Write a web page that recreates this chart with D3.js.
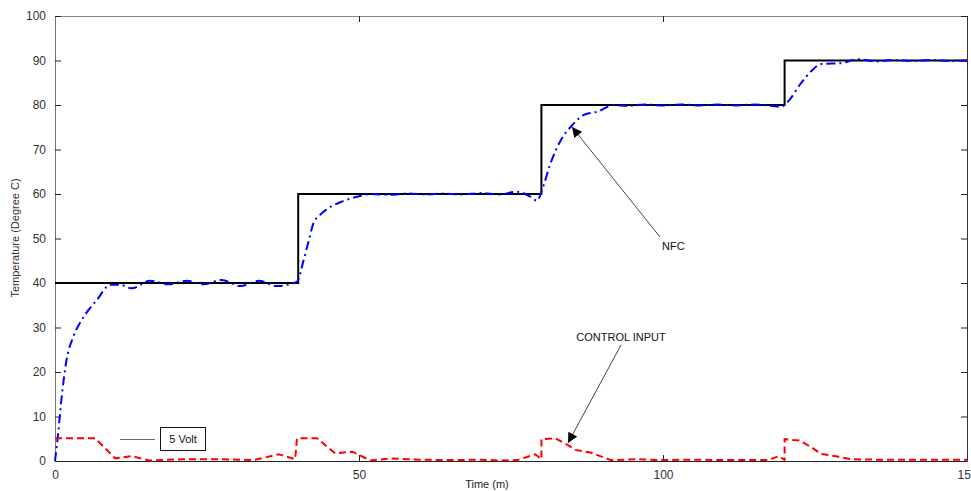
<!DOCTYPE html>
<html><head><meta charset="utf-8">
<script src="https://cdn.jsdelivr.net/npm/d3@7"></script>
<style>body{margin:0;background:#fff}svg{display:block}text{font-family:"Liberation Sans",Arial,sans-serif}</style>
</head><body><svg id="c" width="971" height="491"></svg>
<script>
const xTicks=[0,50,100,150];
const yTicks=[0,10,20,30,40,50,60,70,80,90,100];
const setT=[0,40,40,80,80,120,120,150];
const setV=[40,40,60,60,80,80,90,90];
const nfcT=[0,0.5,1.1,1.9,3.0,4.4,6.9,9.1,10.7,12.6,15.6,18.7,21.7,24.4,27.4,30.5,33.5,36.5,39.8,40.9,41.7,42.5,43.6,45.3,47.2,49.7,51.9,55,58,61,64,67,70,73,76,78.2,79.3,80.1,81.5,83.2,85.1,87,89.2,91.9,94.1,97,100,103,106,109,112,115,118,119.4,120.5,122.7,124.3,126,129.3,132,135,138,141,144,147,150];
const nfcV=[0,6,14.4,22.7,27.9,31.7,36.2,39.6,39.6,38.8,40.5,39.7,40.5,39.7,40.7,39.3,40.5,39.3,40.3,45.2,49.3,53.4,55.3,57.1,58.3,59.4,60,59.8,60.1,59.9,60.1,59.9,60.2,59.9,60.5,59.4,58.5,60.9,66.9,72.1,75.5,77.8,78.5,80,79.8,80.1,79.9,80.1,79.9,80.1,79.9,80.1,79.8,79.6,80.7,84.9,87.5,89.2,89.4,90.3,89.8,90.1,89.9,90.1,89.9,90,90];
const ctlT=[0,6.6,9.9,12.6,15.6,21.1,27.2,32.7,36.8,39.5,39.8,43.1,46.1,48.9,51.9,55.2,60,65,70,73.3,76,79,80,80,82.3,84.3,85.6,88.1,91.4,95.8,100,105,110,117.2,119.1,120,120,122.4,124.3,126,128.7,130.9,135,140,145,150];
const ctlV=[5.1,5.1,0.6,1.1,0.1,0.4,0.4,0.2,1.5,0.4,5.1,5.1,1.7,2.1,0.1,0.6,0.3,0.2,0.3,0.1,0.2,1.5,0.4,4.9,5.1,3.6,2.5,1.9,0.2,0.4,0.2,0.3,0.2,0.2,1.1,0.2,4.9,4.6,3.2,1.6,1.0,0.4,0.3,0.3,0.3,0.3];
const xLabel="Time (m)", yLabel="Temperature (Degree C)";

const svg=d3.select("#c");
const L=55,R=967,T=16,B=461;
const x=d3.scaleLinear().domain([0,150]).range([L,R]);
const y=d3.scaleLinear().domain([0,100]).range([B,T]);
svg.append("rect").attr("x",L).attr("y",T).attr("width",R-L).attr("height",B-T).attr("fill","#fff");
const fmt=d=>d;
const gb=svg.append("g").attr("transform",`translate(0,${B})`).call(d3.axisBottom(x).tickValues(xTicks).tickSizeInner(-6).tickSizeOuter(0).tickPadding(9).tickFormat(fmt));
const gt=svg.append("g").attr("transform",`translate(0,${T})`).call(d3.axisTop(x).tickValues(xTicks).tickSizeInner(-6).tickSizeOuter(0).tickFormat(""));
const gl=svg.append("g").attr("transform",`translate(${L},0)`).call(d3.axisLeft(y).tickValues(yTicks).tickSizeInner(-6).tickSizeOuter(0).tickPadding(9).tickFormat(fmt));
const gr=svg.append("g").attr("transform",`translate(${R},0)`).call(d3.axisRight(y).tickValues(yTicks).tickSizeInner(-6).tickSizeOuter(0).tickFormat(""));
[[gb,"#222"],[gt,"#888"],[gl,"#777"],[gr,"#333"]].forEach(([g,c])=>{g.select(".domain").attr("stroke",c);g.selectAll(".tick line").attr("stroke","#222");g.selectAll("text").attr("fill","#333").style("font-size","12px").style("font-family","'Liberation Sans',Arial,sans-serif");});

const line=(ts,vs)=>d3.line().x((d,i)=>x(ts[i])).y((d,i)=>y(vs[i]))(ts);
svg.append("path").attr("d",line(setT,setV)).attr("fill","none").attr("stroke","#000").attr("stroke-width",2);
svg.append("path").attr("d",d3.line().curve(d3.curveMonotoneX).x((d,i)=>x(nfcT[i])).y((d,i)=>y(nfcV[i]))(nfcT)).attr("fill","none").attr("stroke","#0000ff").attr("stroke-width",2).attr("stroke-dasharray","9,4,2,4");
svg.append("path").attr("d",line(ctlT,ctlV)).attr("fill","none").attr("stroke","#ff0000").attr("stroke-width",2).attr("stroke-dasharray","7,4");

// annotations
const defs=svg.append("defs");
defs.append("marker").attr("id","ah").attr("viewBox","0 0 10 10").attr("refX",10).attr("refY",5).attr("markerWidth",12).attr("markerHeight",10).attr("markerUnits","userSpaceOnUse").attr("orient","auto")
 .append("path").attr("d","M0,0L10,5L0,10Z").attr("fill","#000");
svg.append("line").attr("x1",660).attr("y1",237).attr("x2",572).attr("y2",127).attr("stroke","#444").attr("stroke-width",1).attr("marker-end","url(#ah)");
svg.append("text").attr("x",662).attr("y",250).text("NFC").style("font-size","11px").attr("fill","#111");
svg.append("line").attr("x1",621).attr("y1",345).attr("x2",568).attr("y2",443).attr("stroke","#444").attr("stroke-width",1).attr("marker-end","url(#ah)");
svg.append("text").attr("x",621).attr("y",341).attr("text-anchor","middle").text("CONTROL INPUT").style("font-size","11px").attr("fill","#111");
svg.append("line").attr("x1",120).attr("y1",439.5).attr("x2",155).attr("y2",439.5).attr("stroke","#666").attr("stroke-width",1);
svg.append("rect").attr("x",160.5).attr("y",427.5).attr("width",45).attr("height",23).attr("fill","#fff").attr("stroke","#111");
svg.append("text").attr("x",183).attr("y",443).attr("text-anchor","middle").text("5 Volt").style("font-size","11px").attr("fill","#111");

svg.append("text").attr("x",487).attr("y",488).attr("text-anchor","middle").text(xLabel).style("font-size","11px").attr("fill","#222");
svg.append("text").attr("transform","translate(19,238) rotate(-90)").attr("text-anchor","middle").text(yLabel).style("font-size","11px").attr("fill","#333");
</script></body></html>
